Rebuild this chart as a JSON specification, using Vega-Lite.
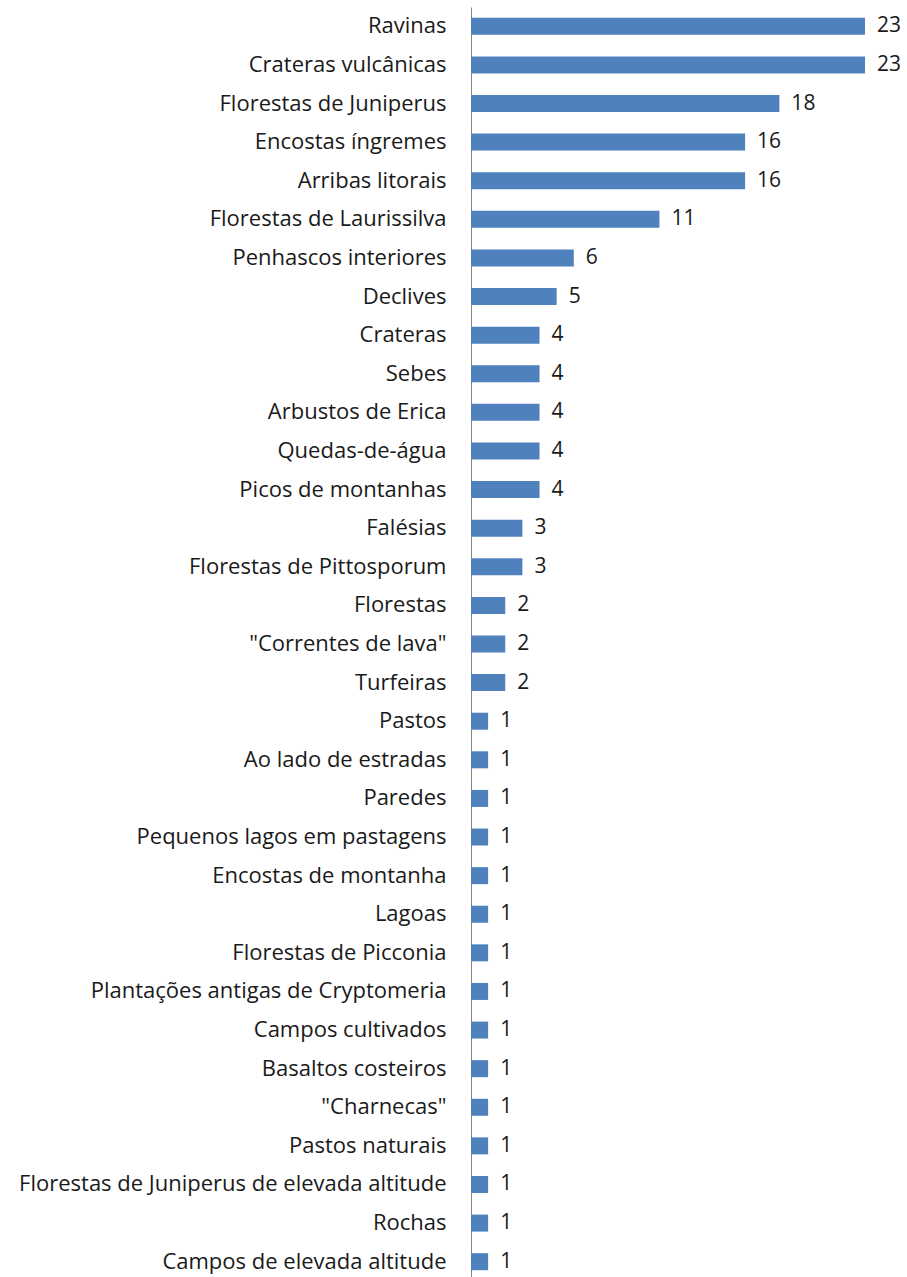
{
  "$schema": "https://vega.github.io/schema/vega-lite/v6.json",
  "autosize": {"type": "none"},
  "padding": {"left": 471, "top": 7, "right": 0, "bottom": 0},
  "width": 436,
  "height": 1274,
  "background": "white",
  "config": {"view": {"stroke": null}, "font": "Open Sans"},
  "data": {"values": [
    {"habitat": "Ravinas", "n": 23},
    {"habitat": "Crateras vulcânicas", "n": 23},
    {"habitat": "Florestas de Juniperus", "n": 18},
    {"habitat": "Encostas íngremes", "n": 16},
    {"habitat": "Arribas litorais", "n": 16},
    {"habitat": "Florestas de Laurissilva", "n": 11},
    {"habitat": "Penhascos interiores", "n": 6},
    {"habitat": "Declives", "n": 5},
    {"habitat": "Crateras ", "n": 4},
    {"habitat": "Sebes", "n": 4},
    {"habitat": "Arbustos de Erica", "n": 4},
    {"habitat": "Quedas-de-água", "n": 4},
    {"habitat": "Picos de montanhas", "n": 4},
    {"habitat": "Falésias", "n": 3},
    {"habitat": "Florestas de Pittosporum", "n": 3},
    {"habitat": "Florestas ", "n": 2},
    {"habitat": "\"Correntes de lava\"", "n": 2},
    {"habitat": "Turfeiras", "n": 2},
    {"habitat": "Pastos", "n": 1},
    {"habitat": "Ao lado de estradas", "n": 1},
    {"habitat": "Paredes", "n": 1},
    {"habitat": "Pequenos lagos em pastagens", "n": 1},
    {"habitat": "Encostas de montanha", "n": 1},
    {"habitat": "Lagoas", "n": 1},
    {"habitat": "Florestas de Picconia", "n": 1},
    {"habitat": "Plantações antigas de Cryptomeria", "n": 1},
    {"habitat": "Campos cultivados", "n": 1},
    {"habitat": "Basaltos costeiros", "n": 1},
    {"habitat": "\"Charnecas\"", "n": 1},
    {"habitat": "Pastos naturais", "n": 1},
    {"habitat": "Florestas de Juniperus de elevada  altitude", "n": 1},
    {"habitat": "Rochas", "n": 1},
    {"habitat": "Campos de elevada altitude", "n": 1}
  ]},
  "encoding": {
    "y": {"field": "habitat", "type": "nominal", "sort": null,
      "axis": {"title": null, "ticks": false, "domainColor": "#868686", "domainWidth": 1,
        "labelFontSize": 22, "labelColor": "#1a1a1a", "labelPadding": 25, "labelLimit": 600, "labelFont": "Open Sans"}},
    "x": {"field": "n", "type": "quantitative", "scale": {"domain": [0, 25.45], "nice": false}, "axis": null}
  },
  "layer": [
    {"mark": {"type": "bar", "height": 17, "color": "#4f81bd"}},
    {"mark": {"type": "text", "align": "left", "baseline": "middle", "dx": 12, "fontSize": 21, "color": "#1a1a1a", "font": "Open Sans"},
     "encoding": {"text": {"field": "n", "type": "quantitative"}}}
  ]
}
